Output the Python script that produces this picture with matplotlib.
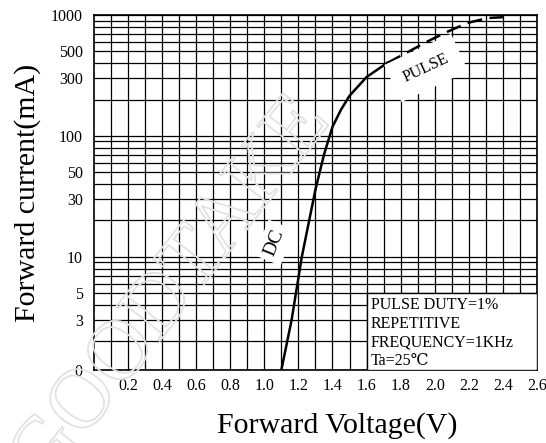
#import section
import matplotlib
matplotlib.use("Agg")
import matplotlib.pyplot as plt
import numpy as np
from matplotlib.ticker import FixedLocator, LogLocator, NullFormatter
from matplotlib.patches import Rectangle, PathPatch
from matplotlib.textpath import TextPath
from matplotlib.font_manager import FontProperties
from matplotlib.transforms import Affine2D

#data
dc_voltage = [1.10, 1.16, 1.22, 1.30, 1.35, 1.40, 1.45, 1.50, 1.60, 1.72]
dc_current = [1.16, 3.0, 10.0, 36.0, 70.0, 119.0, 165.0, 215.0, 307.0, 401.0]
pulse_voltage = [1.72, 1.81, 1.95, 2.07, 2.19, 2.31, 2.40]
pulse_current = [401.0, 467.0, 598.0, 723.0, 859.0, 945.0, 960.0]

x_ticks = [0.2, 0.4, 0.6, 0.8, 1.0, 1.2, 1.4, 1.6, 1.8, 2.0, 2.2, 2.4, 2.6]
y_ticks = [1.16, 3, 5, 10, 30, 50, 100, 300, 500, 1000]
y_labels = ["0", "3", "5", "10", "30", "50", "100", "300", "500", "1000"]
note_lines = ["PULSE DUTY=1%", "REPETITIVE", "FREQUENCY=1KHz", "Ta=25\u2103"]
note_y = [0.183, 0.130, 0.076, 0.024]

serif = ["Liberation Serif", "DejaVu Serif"]
plt.rcParams["font.family"] = serif

fig = plt.figure(figsize=(5.46, 4.43), dpi=100)
ax = fig.add_axes([0.172, 0.165, 0.8115, 0.801])

ax.set_yscale("log")
ax.set_xlim(0, 2.6)
ax.set_ylim(1.16, 1000)

#grid
ax.xaxis.set_major_locator(FixedLocator(x_ticks))
ax.xaxis.set_minor_locator(FixedLocator(np.arange(1, 26) / 10))
ax.set_xticklabels(["%.1f" % v for v in x_ticks])
ax.yaxis.set_major_locator(FixedLocator(y_ticks))
ax.yaxis.set_minor_locator(LogLocator(base=10, subs=np.arange(2, 10), numticks=20))
ax.yaxis.set_minor_formatter(NullFormatter())
ax.set_yticklabels(y_labels)
ax.grid(True, which="both", color="black", linewidth=0.9)
ax.tick_params(which="both", length=0)
ax.tick_params(axis="x", labelsize=11.5, pad=6)
ax.tick_params(axis="y", labelsize=11.5, pad=8)
for s in ax.spines.values():
    s.set_linewidth(1.2)

#curves
ax.plot(dc_voltage, dc_current, color="black", linewidth=1.8, zorder=4)
ax.plot(pulse_voltage, pulse_current, color="black", linewidth=1.8,
        linestyle=(0, (6, 3)), zorder=4)

#labels on the curve
ax.text(1.06, 13.1, "DC", rotation=68, fontsize=14, ha="center", va="center",
        zorder=5, bbox=dict(facecolor="white", edgecolor="none", pad=4))
ax.text(1.95, 365, "PULSE", rotation=25, fontsize=11.5, ha="center", va="center",
        zorder=5, bbox=dict(facecolor="white", edgecolor="none", pad=9))

#note box
ax.add_patch(Rectangle((1.6, 1.16), 1.0, 5 - 1.16, facecolor="white",
                       edgecolor="black", linewidth=1.0, zorder=3))
for line, yy in zip(note_lines, note_y):
    ax.text(0.625, yy, line, fontsize=11.5, ha="left", va="center",
            transform=ax.transAxes, zorder=5)

ax.set_xlabel("Forward Voltage(V)", fontsize=21.5, labelpad=13)
ax.xaxis.label.set_x(0.55)
ax.set_ylabel("Forward current(mA)", fontsize=21.5, labelpad=7)

#faint watermark
tp = TextPath((0, 0), "GOODTAKE", size=85, prop=FontProperties(family=serif))
wm = PathPatch(Affine2D().rotate_deg(52).translate(45, -45).transform_path(tp),
               facecolor="none", edgecolor="#e2e2e2", linewidth=1.3,
               transform=None, zorder=10)
fig.add_artist(wm)

fig.savefig("out.png", dpi=100)
